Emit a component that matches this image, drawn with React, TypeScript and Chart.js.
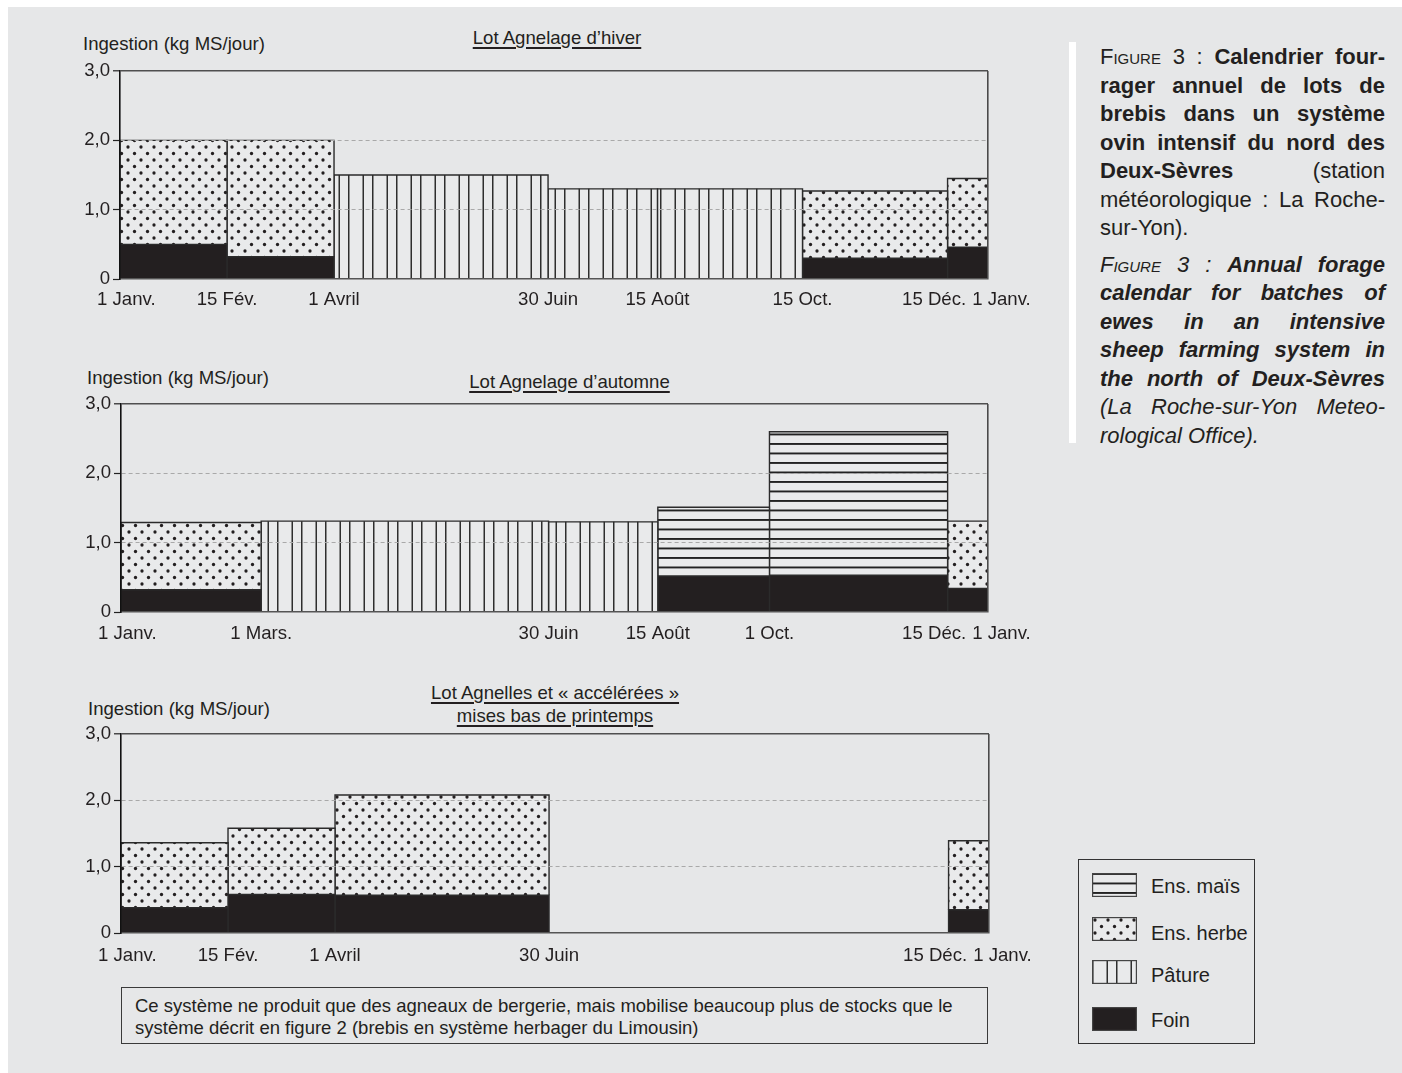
import React, { useEffect, useRef } from 'react';
import { Chart, registerables } from 'chart.js';

Chart.register(...registerables);

const FONT = '"Liberation Sans", Arial, Helvetica, sans-serif';
const INK = '#231f20';
const PANEL = '#e6e7e8';
const FILL_BG = '#e9eaeb';
const EDGE = '#2b2b2b';
const FS = 18.6;

// ---------- Lot Agnelage d'hiver ----------
const hiverStart = [0, 45, 90, 180, 226, 287, 348];
const hiverEnd = [45, 90, 180, 226, 287, 348, 365];
const hiverFoin = [0.5, 0.32, 0, 0, 0, 0.3, 0.46];
const hiverHerbe = [1.5, 1.68, 0, 0, 0, 0.97, 0.99];
const hiverPature = [0, 0, 1.5, 1.3, 1.3, 0, 0];
const hiverMais = [0, 0, 0, 0, 0, 0, 0];
const hiverTickDays = [0, 45, 90, 180, 226, 287, 348, 365];
const hiverTickLabels = ['1 Janv.', '15 Fév.', '1 Avril', '30 Juin', '15 Août', '15 Oct.', '15 Déc.', '1 Janv.'];

// ---------- Lot Agnelage d'automne ----------
const automneStart = [0, 59, 180, 226, 273, 348];
const automneEnd = [59, 180, 226, 273, 348, 365];
const automneFoin = [0.32, 0, 0, 0.52, 0.53, 0.34];
const automneHerbe = [0.97, 0, 0, 0, 0, 0.97];
const automnePature = [0, 1.31, 1.3, 0, 0, 0];
const automneMais = [0, 0, 0, 0.99, 2.07, 0];
const automneTickDays = [0, 59, 180, 226, 273, 348, 365];
const automneTickLabels = ['1 Janv.', '1 Mars.', '30 Juin', '15 Août', '1 Oct.', '15 Déc.', '1 Janv.'];

// ---------- Lot Agnelles et « accélérées » ----------
const agnellesStart = [0, 45, 90, 348];
const agnellesEnd = [45, 90, 180, 365];
const agnellesFoin = [0.38, 0.58, 0.57, 0.35];
const agnellesHerbe = [0.98, 1.0, 1.51, 1.04];
const agnellesPature = [0, 0, 0, 0];
const agnellesMais = [0, 0, 0, 0];
const agnellesTickDays = [0, 45, 90, 180, 348, 365];
const agnellesTickLabels = ['1 Janv.', '15 Fév.', '1 Avril', '30 Juin', '15 Déc.', '1 Janv.'];

const yTicks = [0, 1, 2, 3];
const yTickLabels = ['0', '1,0', '2,0', '3,0'];
const yAxisTitle = 'Ingestion (kg MS/jour)';
const legendNames = ['Ens. maïs', 'Ens. herbe', 'Pâture', 'Foin'];
const legendKinds = ['mais', 'herbe', 'pature', 'foin'];

const Y_W = 60;
const PAD_T = 18;
const PAD_R = 60;
const X_H = 44;

const specHiver = {
  L: 120, R: 988, T: 71, B: 279, labelBase: 26,
  start: hiverStart, end: hiverEnd, foin: hiverFoin, herbe: hiverHerbe, pature: hiverPature, mais: hiverMais,
  tickDays: hiverTickDays, tickLabels: hiverTickLabels,
};
const specAutomne = {
  L: 121, R: 988, T: 404, B: 612, labelBase: 26.5,
  start: automneStart, end: automneEnd, foin: automneFoin, herbe: automneHerbe, pature: automnePature, mais: automneMais,
  tickDays: automneTickDays, tickLabels: automneTickLabels,
};
const specAgnelles = {
  L: 121, R: 989, T: 734, B: 933, labelBase: 28,
  start: agnellesStart, end: agnellesEnd, foin: agnellesFoin, herbe: agnellesHerbe, pature: agnellesPature, mais: agnellesMais,
  tickDays: agnellesTickDays, tickLabels: agnellesTickLabels,
};

function makeTile(kind: string): HTMLCanvasElement {
  const c = document.createElement('canvas');
  const g = c.getContext('2d') as CanvasRenderingContext2D;
  if (kind === 'herbe') {
    c.width = 13; c.height = 13;
    g.fillStyle = FILL_BG; g.fillRect(0, 0, 13, 13);
    g.fillStyle = INK;
    [[3, 3], [9.5, 9.5]].forEach(([x, y]) => { g.beginPath(); g.arc(x, y, 1.65, 0, Math.PI * 2); g.fill(); });
  } else if (kind === 'pature') {
    c.width = 24; c.height = 4;
    g.fillStyle = FILL_BG; g.fillRect(0, 0, 24, 4);
    g.fillStyle = '#2e2e2e'; g.fillRect(0, 0, 1.5, 4); g.fillRect(14.5, 0, 1.5, 4);
  } else {
    c.width = 4; c.height = 19;
    g.fillStyle = FILL_BG; g.fillRect(0, 0, 4, 19);
    g.fillStyle = '#222'; g.fillRect(0, 0, 4, 1.9); g.fillRect(0, 9.5, 4, 1.9);
  }
  return c;
}

function fillFor(ctx: CanvasRenderingContext2D, kind: string): any {
  if (kind === 'foin') return INK;
  return ctx.createPattern(makeTile(kind), 'repeat');
}

function FeedChart({ spec }: { spec: any }) {
  const ref = useRef<HTMLCanvasElement>(null);
  const W = spec.R - spec.L + Y_W + PAD_R;
  const H = spec.B - spec.T + PAD_T + X_H;
  useEffect(() => {
    const canvas = ref.current as HTMLCanvasElement;
    const ctx = canvas.getContext('2d') as CanvasRenderingContext2D;
    const fills: any = {
      foin: INK,
      herbe: fillFor(ctx, 'herbe'),
      pature: fillFor(ctx, 'pature'),
      mais: fillFor(ctx, 'mais'),
    };
    const datasets: any[] = [];
    spec.start.forEach((s: number, i: number) => {
      const e = spec.end[i];
      let base = 0;
      const layers: [string, number][] = [
        ['foin', spec.foin[i]], ['herbe', spec.herbe[i]], ['pature', spec.pature[i]], ['mais', spec.mais[i]],
      ];
      layers.forEach(([kind, v]) => {
        if (!v) return;
        const top = base + v;
        datasets.push({
          label: kind,
          data: [{ x: s, y: base }, { x: s, y: top }, { x: e, y: top }, { x: e, y: base }],
          fill: { value: base },
          backgroundColor: fills[kind],
          borderColor: EDGE,
          borderWidth: 1.4,
          borderJoinStyle: 'miter',
          pointRadius: 0,
          pointHoverRadius: 0,
          tension: 0,
        });
        base = top;
      });
    });

    const labelPlugin = {
      id: 'dateLabels',
      afterDraw(chart: any) {
        const xs = chart.scales.x;
        const c = chart.ctx;
        c.save();
        c.font = `${FS}px ${FONT}`;
        c.fillStyle = INK;
        c.textAlign = 'center';
        c.textBaseline = 'alphabetic';
        const items = spec.tickDays.map((d: number, i: number) => ({
          x: xs.getPixelForValue(d),
          w: c.measureText(spec.tickLabels[i]).width,
          t: spec.tickLabels[i],
        }));
        const minLeft = chart.chartArea.left - 23;
        if (items.length && items[0].x - items[0].w / 2 < minLeft) items[0].x = minLeft + items[0].w / 2;
        for (let it = 0; it < 6; it++) {
          for (let i = 0; i < items.length - 1; i++) {
            const a = items[i], b = items[i + 1];
            const need = (a.w + b.w) / 2 + 6;
            const gap = b.x - a.x;
            if (gap < need) { const d = (need - gap) / 2; a.x -= d; b.x += d; }
          }
        }
        items.forEach((it: any) => c.fillText(it.t, it.x, chart.chartArea.bottom + spec.labelBase));
        c.restore();
      },
    };

    const chart = new Chart(canvas, {
      type: 'line',
      data: { datasets },
      options: {
        responsive: false,
        animation: false,
        events: [],
        layout: { autoPadding: false, padding: { top: PAD_T, right: PAD_R, bottom: 0, left: 0 } },
        plugins: { legend: { display: false }, tooltip: { enabled: false }, title: { display: false } },
        scales: {
          x: {
            type: 'linear',
            min: 0,
            max: 365,
            afterBuildTicks: (sc: any) => { sc.ticks = spec.tickDays.map((v: number) => ({ value: v })); },
            afterFit: (sc: any) => { sc.height = X_H; },
            ticks: { display: false },
            grid: {
              drawTicks: false,
              color: (c: any) => (c.tick && c.tick.value === 365 ? '#4a4a4a' : 'rgba(0,0,0,0)'),
              lineWidth: 1.6,
              z: 1,
            },
            border: { display: true, color: '#555', width: 1.5, z: 1 },
          },
          y: {
            type: 'linear',
            min: 0,
            max: 3,
            afterBuildTicks: (sc: any) => { sc.ticks = yTicks.map((v) => ({ value: v })); },
            afterFit: (sc: any) => { sc.width = Y_W; },
            ticks: {
              callback: (_v: any, idx: number) => yTickLabels[idx],
              font: { family: FONT, size: FS },
              color: INK,
              padding: 3,
            },
            grid: {
              drawTicks: true,
              tickLength: 7,
              tickColor: '#222',
              tickWidth: 1.2,
              color: (c: any) => {
                const v = c.tick ? c.tick.value : -1;
                if (v === 3) return '#4f4f4f';
                if (v === 0) return 'rgba(0,0,0,0)';
                return '#a9a9a9';
              },
              lineWidth: (c: any) => (c.tick && c.tick.value === 3 ? 1.6 : 1),
              z: 1,
            },
            border: {
              display: true,
              color: '#111',
              width: 1.6,
              z: 1,
              dash: (c: any) => (c.tick && c.tick.value !== 3 ? [4, 3] : []),
            },
          },
        },
      } as any,
      plugins: [labelPlugin],
    } as any);
    return () => chart.destroy();
  }, [spec]);
  return (
    <canvas
      ref={ref}
      width={W}
      height={H}
      style={{ position: 'absolute', left: spec.L - Y_W, top: spec.T - PAD_T, width: W, height: H }}
    />
  );
}

function Swatch({ kind, left, top, w, h }: any) {
  const ref = useRef<HTMLCanvasElement>(null);
  useEffect(() => {
    const c = ref.current as HTMLCanvasElement;
    const g = c.getContext('2d') as CanvasRenderingContext2D;
    g.clearRect(0, 0, w, h);
    g.fillStyle = fillFor(g, kind);
    g.fillRect(0, 0, w, h);
    g.strokeStyle = '#444';
    g.lineWidth = 1.2;
    g.strokeRect(0.6, 0.6, w - 1.2, h - 1.2);
  }, [kind, w, h]);
  return <canvas ref={ref} width={w} height={h} style={{ position: 'absolute', left, top, width: w, height: h }} />;
}

function Txt({ left, top, size, children, style }: any) {
  return (
    <div
      style={{
        position: 'absolute', left, top, fontSize: size, lineHeight: `${Math.round(size * 1.2)}px`,
        whiteSpace: 'nowrap', fontFamily: FONT, color: INK, ...(style || {}),
      }}
    >
      {children}
    </div>
  );
}

function Title({ cx, top, lines }: any) {
  return (
    <div
      style={{
        position: 'absolute', left: cx - 250, width: 500, top, textAlign: 'center', fontSize: FS,
        lineHeight: '22.7px', fontFamily: FONT, color: INK,
      }}
    >
      {lines.map((l: string, i: number) => (
        <div key={i}>
          <span style={{ textDecoration: 'underline', textDecorationThickness: '1.5px', textUnderlineOffset: '3px' }}>{l}</span>
        </div>
      ))}
    </div>
  );
}

const just: any = { textAlign: 'justify', textAlignLast: 'justify' };
const sc: any = { fontVariant: 'small-caps' };

export default function App() {
  const legendRows = [
    { sw: 873, tx: 874.4 },
    { sw: 917, tx: 921 },
    { sw: 960, tx: 962.8 },
    { sw: 1007, tx: 1007.8 },
  ];
  return (
    <div
      style={{
        position: 'fixed', left: 0, top: 0, width: 1402, height: 1073, background: '#fff',
        overflow: 'hidden', fontFamily: FONT, color: INK,
      }}
    >
      <div style={{ position: 'absolute', left: 8, top: 7, right: 0, bottom: 0, background: PANEL }} />

      {/* Chart 1 */}
      <Txt left={83} top={32.5} size={FS}>{yAxisTitle}</Txt>
      <Title cx={557} top={26.8} lines={['Lot Agnelage d’hiver']} />
      <FeedChart spec={specHiver} />

      {/* Chart 2 */}
      <Txt left={87} top={366.8} size={FS}>{yAxisTitle}</Txt>
      <Title cx={569.5} top={370.5} lines={['Lot Agnelage d’automne']} />
      <FeedChart spec={specAutomne} />

      {/* Chart 3 */}
      <Txt left={88} top={697.8} size={FS}>{yAxisTitle}</Txt>
      <Title cx={555} top={681.8} lines={['Lot Agnelles et « accélérées »', 'mises bas de printemps']} />
      <FeedChart spec={specAgnelles} />

      {/* Note */}
      <div
        style={{
          position: 'absolute', left: 121, top: 987, width: 867, height: 57, boxSizing: 'border-box',
          border: '1.3px solid #3a3a3a', padding: '7.3px 0 0 13px', fontSize: 18.5, lineHeight: '22px',
          fontFamily: FONT, color: INK, whiteSpace: 'nowrap',
        }}
      >
        <div>Ce système ne produit que des agneaux de bergerie, mais mobilise beaucoup plus de stocks que le</div>
        <div>système décrit en figure 2 (brebis en système herbager du Limousin)</div>
      </div>

      {/* Caption */}
      <div style={{ position: 'absolute', left: 1069, top: 42, width: 7, height: 401, background: '#fff' }} />
      <div style={{ position: 'absolute', left: 1100, top: 43.1, width: 285, fontSize: 22, lineHeight: '28.5px', fontFamily: FONT, color: INK }}>
        <div style={just}><span style={sc}>Figure</span> 3 : <b>Calendrier four-</b></div>
        <div style={just}><b>rager annuel de lots de</b></div>
        <div style={just}><b>brebis dans un système</b></div>
        <div style={just}><b>ovin intensif du nord des</b></div>
        <div style={just}><b>Deux-Sèvres</b> (station</div>
        <div style={just}>météorologique : La Roche-</div>
        <div>sur-Yon).</div>
      </div>
      <div style={{ position: 'absolute', left: 1100, top: 250.7, width: 285, fontSize: 22, lineHeight: '28.5px', fontFamily: FONT, color: INK, fontStyle: 'italic' }}>
        <div style={just}><span style={sc}>Figure</span> 3 : <b>Annual forage</b></div>
        <div style={just}><b>calendar for batches of</b></div>
        <div style={just}><b>ewes in an intensive</b></div>
        <div style={just}><b>sheep farming system in</b></div>
        <div style={just}><b>the north of Deux-Sèvres</b></div>
        <div style={just}>(La Roche-sur-Yon Meteo-</div>
        <div>rological Office).</div>
      </div>

      {/* Legend */}
      <div style={{ position: 'absolute', left: 1078, top: 859, width: 177, height: 185, boxSizing: 'border-box', border: '1.3px solid #333' }} />
      {legendNames.map((name, i) => (
        <React.Fragment key={name}>
          <Swatch kind={legendKinds[i]} left={1092} top={legendRows[i].sw} w={45} h={24} />
          <Txt left={1151} top={legendRows[i].tx} size={20} style={{ lineHeight: '24px' }}>{name}</Txt>
        </React.Fragment>
      ))}
    </div>
  );
}
